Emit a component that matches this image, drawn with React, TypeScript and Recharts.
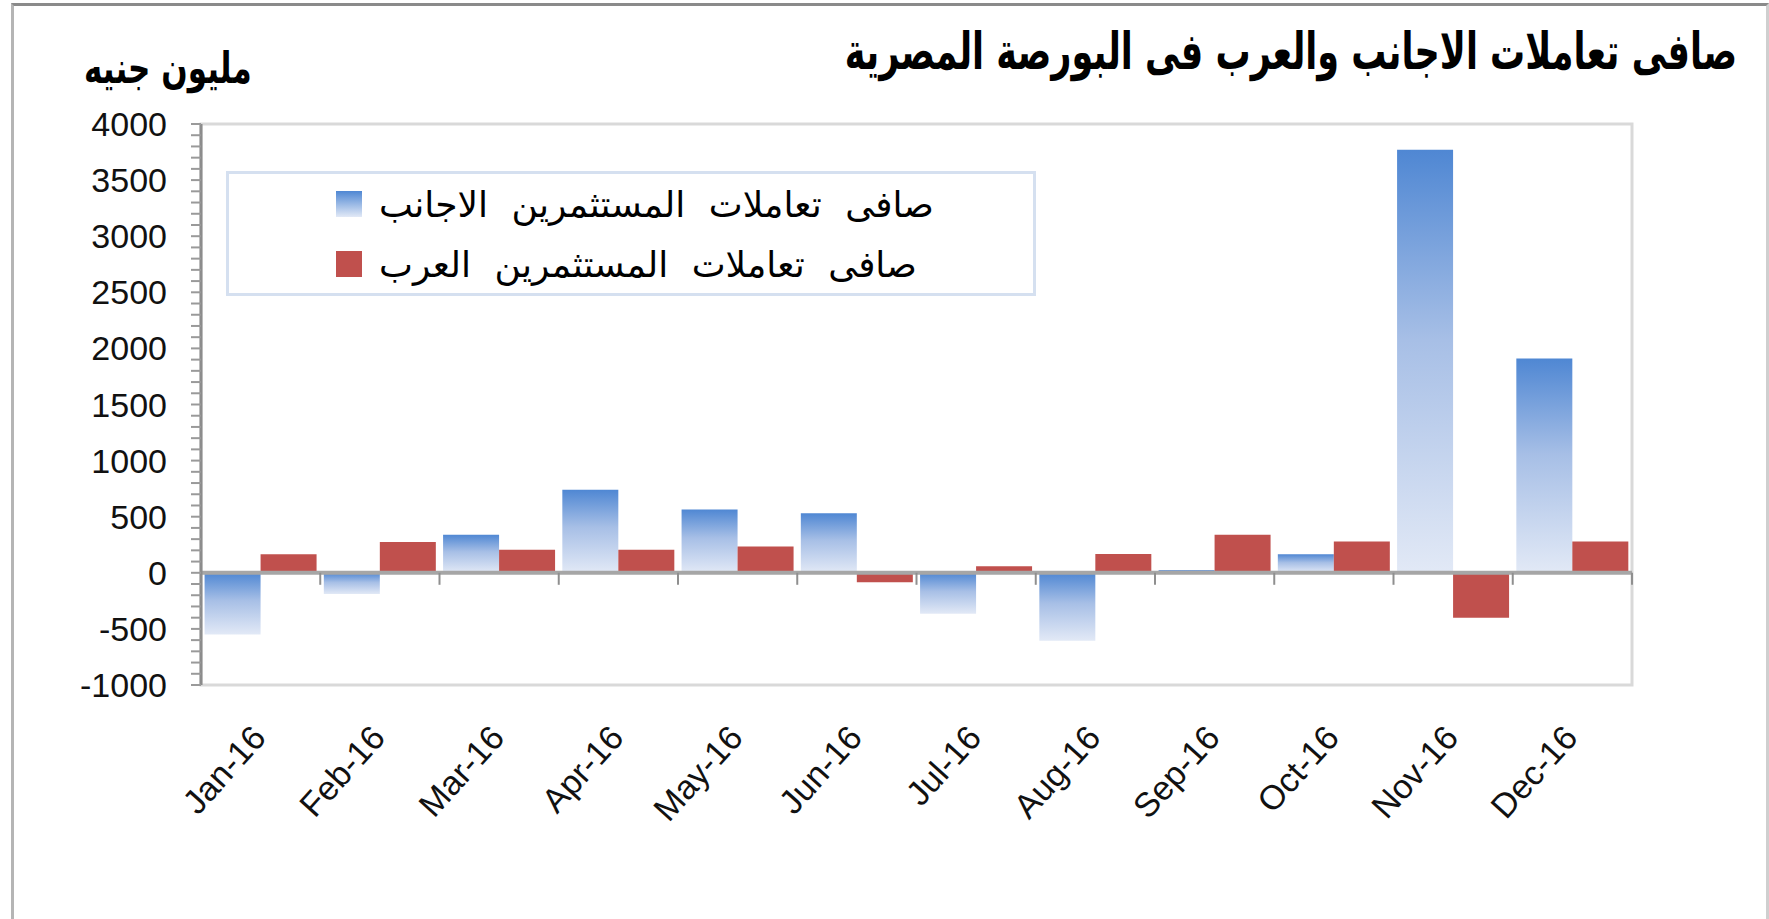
import React from 'react';
import { BarChart, Bar, XAxis, YAxis, Legend, ReferenceLine, ReferenceArea } from 'recharts';

const months = ['Jan-16', 'Feb-16', 'Mar-16', 'Apr-16', 'May-16', 'Jun-16', 'Jul-16', 'Aug-16', 'Sep-16', 'Oct-16', 'Nov-16', 'Dec-16'];
const foreignNet = [-550, -190, 340, 740, 565, 530, -365, -605, 25, 165, 3770, 1910];
const arabNet = [165, 275, 205, 205, 235, -85, 58, 167, 340, 280, -400, 280];

const foreignName = 'صافى تعاملات المستثمرين الاجانب';
const arabName = 'صافى تعاملات المستثمرين العرب';
const titleText = 'صافى تعاملات الاجانب والعرب فى البورصة المصرية';
const unitText = 'مليون جنيه';

const yLabelTicks = [-1000, -500, 0, 500, 1000, 1500, 2000, 2500, 3000, 3500, 4000];
const yMinorStep = 100;

const data = months.map((m, i) => ({ month: m, foreign: foreignNet[i], arab: arabNet[i] }));
const yTicks: number[] = [];
for (let v = yLabelTicks[0]; v <= yLabelTicks[yLabelTicks.length - 1]; v += yMinorStep) yTicks.push(v);

const BLUE_TOP = '#4f87d3';
const BLUE_BOTTOM = '#e2e9f6';
const RED = '#c0504d';
const ARABIC_FONT = '"DejaVu Sans", sans-serif';
const NUM_FONT = '"Liberation Sans", Arial, sans-serif';

const MonthTick = (props: any) => {
  const { x, y, payload } = props;
  return (
    <g transform={`translate(${x + 7},${y + 54})`}>
      <text textAnchor="end" transform="rotate(-48)" fontSize={34} fontFamily={NUM_FONT} fill="#111">
        {payload.value}
      </text>
    </g>
  );
};

// zero line with Excel-like category boundary ticks
const ZeroAxis = (props: any) => {
  const { x1, x2, y1 } = props;
  const step = (x2 - x1) / months.length;
  const marks = [];
  for (let i = 0; i <= months.length; i++) {
    const x = x1 + step * i;
    marks.push(<line key={i} x1={x} x2={x} y1={y1} y2={y1 + 12} stroke="#8f8f8f" strokeWidth={2} />);
  }
  return (
    <g>
      <line x1={x1} x2={x2} y1={y1} y2={y1} stroke="#a6a6a6" strokeWidth={4} />
      {marks}
    </g>
  );
};

const LegendBox = () => {
  const items = [
    { name: foreignName, swatch: 'url(#blueGradLegend)' },
    { name: arabName, swatch: RED },
  ];
  return (
    <div
      style={{
        width: 810,
        height: 125,
        boxSizing: 'border-box',
        border: '3px solid #d5e0f0',
        background: '#fff',
        paddingTop: 0,
      }}
    >
      {items.map((it) => (
        <div key={it.name} style={{ display: 'flex', alignItems: 'center', height: 60, paddingLeft: 107 }}>
          <svg width={26} height={26} style={{ flex: 'none' }}>
            <defs>
              <linearGradient id="blueGradLegend" x1="0" y1="0" x2="0" y2="1">
                <stop offset="0%" stopColor={BLUE_TOP} />
                <stop offset="100%" stopColor={BLUE_BOTTOM} />
              </linearGradient>
            </defs>
            <rect width={26} height={26} fill={it.swatch} />
          </svg>
          <span
            dir="rtl"
            style={{ marginLeft: 17, fontFamily: ARABIC_FONT, fontSize: 36, wordSpacing: 12, color: '#000', whiteSpace: 'nowrap' }}
          >
            {it.name}
          </span>
        </div>
      ))}
    </div>
  );
};

export default function App() {
  return (
    <div style={{ position: 'absolute', left: 0, top: 0, width: 1769, height: 919, background: '#fff', overflow: 'hidden' }}>
      <div
        style={{
          position: 'absolute',
          left: 11,
          top: 3,
          width: 1752,
          height: 930,
          borderTop: '3px solid #8a8a8a',
          borderLeft: '3px solid #b5b5b5',
          borderRight: '3px solid #cfcfcf',
        }}
      />
      <div
        dir="rtl"
        style={{
          position: 'absolute',
          right: 32,
          top: 23,
          fontFamily: ARABIC_FONT,
          fontWeight: 'bold',
          fontSize: 35,
          lineHeight: 'normal',
          color: '#000',
          whiteSpace: 'nowrap',
          transform: 'scaleY(1.45)',
          transformOrigin: 'top',
        }}
      >
        {titleText}
      </div>
      <div
        dir="rtl"
        style={{
          position: 'absolute',
          left: 84,
          top: 42,
          fontFamily: ARABIC_FONT,
          fontWeight: 'bold',
          fontSize: 31,
          lineHeight: 'normal',
          color: '#000',
          whiteSpace: 'nowrap',
          transform: 'scaleY(1.4)',
          transformOrigin: 'top',
        }}
      >
        {unitText}
      </div>
      <BarChart
        width={1769}
        height={919}
        data={data}
        margin={{ top: 124, right: 137, bottom: 114, left: 0 }}
        barCategoryGap="3%"
        barGap={0}
        style={{ position: 'absolute', left: 0, top: 0 }}
      >
        <defs>
          <linearGradient id="blueGrad" x1="0" y1="0" x2="0" y2="1">
            <stop offset="0%" stopColor={BLUE_TOP} />
            <stop offset="45%" stopColor="#a7bfe6" />
            <stop offset="100%" stopColor={BLUE_BOTTOM} />
          </linearGradient>
        </defs>
        <ReferenceArea y1={-1000} y2={4000} fill="none" stroke="#d9d9d9" strokeWidth={3} ifOverflow="visible" />
        <XAxis
          dataKey="month"
          height={120}
          axisLine={false}
          tickLine={false}
          tickSize={0}
          tickMargin={0}
          interval={0}
          tick={<MonthTick />}
        />
        <YAxis
          width={201}
          domain={[-1000, 4000]}
          ticks={yTicks}
          interval={0}
          allowDataOverflow
          tickFormatter={(v: number) => (v % 500 === 0 ? String(v) : '')}
          axisLine={{ stroke: '#8c8c8c', strokeWidth: 3 }}
          tickLine={{ stroke: '#9a9a9a', strokeWidth: 2 }}
          tickSize={10}
          tickMargin={24}
          tick={{ fontSize: 34, fontFamily: NUM_FONT, fill: '#111' }}
        />
        <Legend
          layout="horizontal"
          verticalAlign="middle"
          align="center"
          content={() => <LegendBox />}
          wrapperStyle={{ left: 226, top: 171, width: 810, height: 125 }}
        />
        <Bar dataKey="foreign" name={foreignName} fill="url(#blueGrad)" isAnimationActive={false} />
        <Bar dataKey="arab" name={arabName} fill={RED} isAnimationActive={false} />
        <ReferenceLine y={0} shape={(p: any) => <ZeroAxis {...p} />} ifOverflow="visible" />
      </BarChart>
    </div>
  );
}
